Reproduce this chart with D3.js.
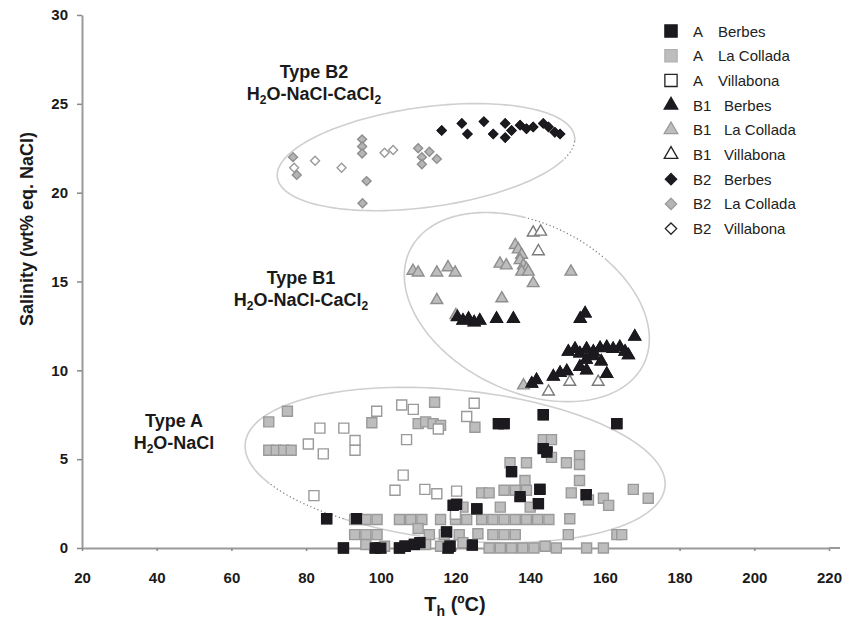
<!DOCTYPE html>
<html><head><meta charset="utf-8">
<script src="https://cdn.jsdelivr.net/npm/d3@7/dist/d3.min.js"></script>
<style>
body{margin:0;background:#fff}
svg{display:block}
text{font-family:"Liberation Sans",Arial,Helvetica,sans-serif}
</style>
</head><body>
<svg id="chart" width="846" height="622"></svg>
<script>
// ---------- data ----------
const xTicks = [20,40,60,80,100,120,140,160,180,200,220];
const yTicks = [0,5,10,15,20,25,30];
const seriesNames = ["A  Berbes","A  La Collada","A  Villabona","B1  Berbes","B1  La Collada","B1  Villabona","B2  Berbes","B2  La Collada","B2  Villabona"];

// [Th (ºC), salinity (wt% eq. NaCl)]
const aBerbes = [[85.5,1.65],[90,0],[93.5,1.65],[98.5,0],[100,0],[105,0],[106.5,0.1],[109,0.2],[110.5,0.3],[118,0],[118.5,0.1],[117.6,0.9],[119.4,2.4],[120.3,2.45],[124.5,0.17],[125.7,2.2],[131.5,7.0],[133,7.0],[135,4.3],[137.3,2.9],[142.6,3.3],[142.2,2.5],[143.5,7.5],[143.5,5.6],[144.5,5.4],[155,3.0],[163.2,7.0]];
const aCollada = [[70,7.1],[75,7.7],[70,5.5],[72,5.5],[74,5.5],[76,5.5],[97.6,7.05],[110,7.0],[112,7.1],[114,7.0],[116,6.9],[114.4,8.2],[125.2,6.8],[134.6,4.8],[139,4.8],[143.5,6.1],[145.7,6.1],[145.7,5.1],[149.7,4.8],[153.2,5.2],[153.2,4.7],[138.6,3.8],[153.2,3.8],[167.6,3.3],[171.6,2.8],[133,3.25],[136,3.25],[139,3.25],[127,3.1],[129,3.1],[151,3.1],[155.6,2.7],[159.6,2.8],[161,2.4],[150.6,1.65],[150.2,0.75],[163.2,0.75],[164.5,0.75],[155.1,0],[159.6,0],
  [93,1.6],[96,1.6],[99,1.6],[105,1.6],[108,1.6],[111,1.6],[116,1.6],[120,1.6],[123,1.6],[127,1.6],[130,1.6],[133,1.6],[136,1.6],[139,1.6],[142,1.6],[145,1.6],
  [93,0.75],[96,0.75],[99,0.75],[110,1.1],[113,0.75],[117,0.75],[121,0.75],[126,0.8],[130,0.75],[133,0.75],[136,0.75],
  [96,0.2],[101,0.1],[112,0.2],[116,0.1],[122,0.3],[129,0],[132,0],[135,0],[138,0],[141,0],[144,0.1],[147,0],
  [122,2.3],[132,2.3],[140,2.3]];
const aVillabona = [[82.1,2.95],[83.7,6.75],[90.1,6.75],[80.6,5.85],[84.6,5.3],[93.1,6.05],[93.1,5.5],[98.9,7.7],[105.6,8.05],[108.7,7.8],[106.9,6.1],[106,4.1],[103.8,3.25],[111.8,3.3],[115,3.05],[115.4,6.7],[123,7.4],[125,8.15],[120.3,3.2],[120,1.9]];

const b1Berbes = [[120.5,13.0],[122,12.8],[123.5,12.9],[125,12.7],[126.5,12.8],[131,12.9],[135.5,12.9],[153.4,12.9],[154.7,13.2],[150.2,11.05],[152,11.2],[153.3,10.95],[155.1,11.2],[156.9,11.05],[158.7,11.25],[160.5,11.3],[162.2,11.2],[164,11.3],[165.4,11.05],[166.3,10.85],[168,11.9],[155,10.6],[157,10.8],[159,10.5],[153.3,10.2],[155.1,10.0],[160.5,9.8],[146.2,9.65],[148,9.85],[149.8,9.95],[140.4,9.25],[141.7,9.45]];
const b1Collada = [[108.6,15.6],[110,15.5],[115,15.5],[118,15.8],[119.9,15.5],[115,13.95],[120.1,13.1],[131.9,16.0],[133.6,15.9],[132.4,14.05],[136,17.05],[136.8,16.8],[137.7,16.5],[137.3,16.2],[138.2,15.9],[139,15.7],[137.7,15.55],[139.5,15.55],[140.8,14.9],[150.9,15.55],[138.2,9.15]];
const b1Villabona = [[140.8,17.75],[142.8,17.8],[142.2,16.7],[144.9,8.8],[150.6,9.35],[158.2,9.35]];

const b2Berbes = [[116.3,23.5],[121.7,23.9],[123.2,23.3],[127.6,24.0],[130.1,23.3],[133.3,23.9],[133.3,23.1],[135,23.5],[137.3,23.8],[139,23.6],[140.8,23.7],[143.5,23.9],[144.9,23.7],[146.6,23.4],[148,23.3]];
const b2Collada = [[76.5,22.0],[77.5,21.0],[95,23.0],[95,22.6],[95,22.2],[96.2,20.65],[95.1,19.4],[110,22.5],[111,22.0],[111,21.6],[113,22.3],[115,21.9]];
const b2Villabona = [[76.8,21.4],[82.4,21.8],[89.5,21.4],[101,22.25],[103.3,22.4]];

// ---------- setup ----------
const svg = d3.select("#chart");
const x = d3.scaleLinear().domain([20,220]).range([82,829]);
const y = d3.scaleLinear().domain([0,30]).range([548,15]);

const symDiamond = {draw(ctx,size){const r=Math.sqrt(size)/2*Math.SQRT2;
  ctx.moveTo(0,-r);ctx.lineTo(r,0);ctx.lineTo(0,r);ctx.lineTo(-r,0);ctx.closePath();}};

const styles = [
  {shape:d3.symbolSquare, fill:"#1c1a1e", stroke:"#1c1a1e", size:100, lsize:150, lstroke:"#1c1a1e"},
  {shape:d3.symbolSquare, fill:"#bdbdbd", stroke:"#9a9a9a", size:100, lsize:150, lstroke:"#b0b0b0"},
  {shape:d3.symbolSquare, fill:"#ffffff", stroke:"#9a9a9a", size:100, lsize:150, lstroke:"#222"},
  {shape:d3.symbolTriangle, fill:"#1c1a1e", stroke:"#1c1a1e", size:60, lsize:80, lstroke:"#1c1a1e"},
  {shape:d3.symbolTriangle, fill:"#bdbdbd", stroke:"#8e8e8e", size:60, lsize:80, lstroke:"#9a9a9a"},
  {shape:d3.symbolTriangle, fill:"#ffffff", stroke:"#7a7a7a", size:60, lsize:80, lstroke:"#222"},
  {shape:symDiamond, fill:"#1c1a1e", stroke:"#1c1a1e", size:40, lsize:64, lstroke:"#1c1a1e"},
  {shape:symDiamond, fill:"#b5b5b5", stroke:"#8e8e8e", size:40, lsize:64, lstroke:"#9a9a9a"},
  {shape:symDiamond, fill:"#ffffff", stroke:"#9a9a9a", size:40, lsize:64, lstroke:"#222"}
];
const seriesData = [aBerbes,aCollada,aVillabona,b1Berbes,b1Collada,b1Villabona,b2Berbes,b2Collada,b2Villabona];

// ---------- ellipses (annotation) ----------
const ellipses = [
  {cx:119.9, cy:4.67, a:211, b:75, rot:5.9, dot:[120,150]},
  {cx:139.1, cy:13.56, a:130, b:84, rot:26, dot:[253,292]},
  {cx:112.1, cy:22.0, a:150, b:50, rot:-7.8, dot:[5,25]}
];
function ellPts(e,t0,t1){
  const cx=x(e.cx), cy=y(e.cy), th=e.rot*Math.PI/180, pts=[];
  for(let t=t0;t<=t1+0.001;t+=2){
    const r=t*Math.PI/180;
    pts.push([cx+e.a*Math.cos(r)*Math.cos(th)-e.b*Math.sin(r)*Math.sin(th),
              cy+e.a*Math.cos(r)*Math.sin(th)+e.b*Math.sin(r)*Math.cos(th)]);
  }
  return pts;
}
const line = d3.line();
const eg = svg.append("g");
ellipses.forEach(e=>{
  eg.append("path").attr("d",line(ellPts(e,e.dot[1],e.dot[0]+360)))
    .attr("fill","none").attr("stroke","#cfcfcf").attr("stroke-width",1.6);
  eg.append("path").attr("d",line(ellPts(e,e.dot[0],e.dot[1])))
    .attr("fill","none").attr("stroke","#777").attr("stroke-width",1.2).attr("stroke-dasharray","1.2,2.6");
});

// ---------- axes ----------
const ya = svg.append("g").attr("transform","translate(82,0)")
  .call(d3.axisLeft(y).tickValues(yTicks).tickSize(5).tickSizeOuter(0).tickPadding(9));
const xa = svg.append("g").attr("transform","translate(0,548)")
  .call(d3.axisBottom(x).tickValues(xTicks).tickSize(3).tickSizeOuter(0).tickPadding(21));
[ya,xa].forEach(g=>{
  g.select(".domain").attr("stroke","#9a9a9a").attr("stroke-width",2);
  g.selectAll(".tick line").attr("stroke","#888").attr("stroke-width",1.5);
  g.selectAll(".tick text").attr("fill","#1a1a1a").attr("font-size",15).attr("font-weight","bold")
   .attr("font-family","'Liberation Sans',Arial,sans-serif");
});
svg.append("line").attr("x1",829).attr("x2",840).attr("y1",548).attr("y2",548)
  .attr("stroke","#9a9a9a").attr("stroke-width",2);

// ---------- points ----------
seriesData.forEach((data,i)=>{
  const s = styles[i];
  svg.append("g").selectAll("path").data(data).join("path")
    .attr("d",d3.symbol().type(s.shape).size(s.size))
    .attr("transform",d=>`translate(${x(d[0])},${y(d[1])})`)
    .attr("fill",s.fill).attr("stroke",s.stroke).attr("stroke-width",1.4);
});
[0,3,6].forEach(i=>{
  const s=styles[i];
  svg.append("g").selectAll("path").data(seriesData[i]).join("path")
    .attr("d",d3.symbol().type(s.shape).size(s.size))
    .attr("transform",d=>`translate(${x(d[0])},${y(d[1])})`)
    .attr("fill",s.fill).attr("stroke",s.stroke).attr("stroke-width",1.2);
});

// ---------- legend ----------
const lg = svg.append("g");
seriesNames.forEach((name,i)=>{
  const s = styles[i], yy = 31 + i*24.7;
  lg.append("path").attr("d",d3.symbol().type(s.shape).size(s.lsize)())
    .attr("transform",`translate(671,${yy})`)
    .attr("fill",s.fill).attr("stroke",s.lstroke).attr("stroke-width",1.3);
  const parts = name.split("  ");
  lg.append("text").attr("x",693).attr("y",yy+5.5).attr("font-size",15).attr("fill","#222").text(parts[0]);
  lg.append("text").attr("x",parts[0]==="A"?718:724).attr("y",yy+5.5).attr("font-size",15).attr("fill","#222").text(parts[1]);
});

// ---------- type labels ----------
function typeLabel(cx, by, title, formula){
  svg.append("text").attr("x",cx).attr("y",by).attr("text-anchor","middle")
    .attr("font-size",18).attr("font-weight","bold").attr("fill","#1a1a1a").text(title);
  const t = svg.append("text").attr("x",cx).attr("y",by+22).attr("text-anchor","middle")
    .attr("font-size",18).attr("font-weight","bold").attr("fill","#1a1a1a");
  formula.forEach(p=>{
    if(p.sub) t.append("tspan").attr("font-size",12).attr("dy",4).text(p.t);
    else t.append("tspan").attr("dy",p.after?-4:0).text(p.t);
  });
}
typeLabel(314,78,"Type B2",[{t:"H"},{t:"2",sub:true},{t:"O-NaCl-CaCl",after:true},{t:"2",sub:true}]);
typeLabel(301,284,"Type B1",[{t:"H"},{t:"2",sub:true},{t:"O-NaCl-CaCl",after:true},{t:"2",sub:true}]);
typeLabel(174,427,"Type A",[{t:"H"},{t:"2",sub:true},{t:"O-NaCl",after:true}]);

// ---------- axis titles ----------
svg.append("text").attr("transform","translate(33,229) rotate(-90)").attr("text-anchor","middle")
  .attr("font-size",18).attr("font-weight","bold").attr("fill","#1a1a1a")
  .text("Salinity (wt% eq. NaCl)");
const xt = svg.append("text").attr("x",455).attr("y",611).attr("text-anchor","middle")
  .attr("font-size",20).attr("font-weight","bold").attr("fill","#1a1a1a");
xt.append("tspan").text("T");
xt.append("tspan").attr("font-size",14).attr("dy",5).text("h");
xt.append("tspan").attr("dy",-5).text(" (ºC)");
</script>
</body></html>
